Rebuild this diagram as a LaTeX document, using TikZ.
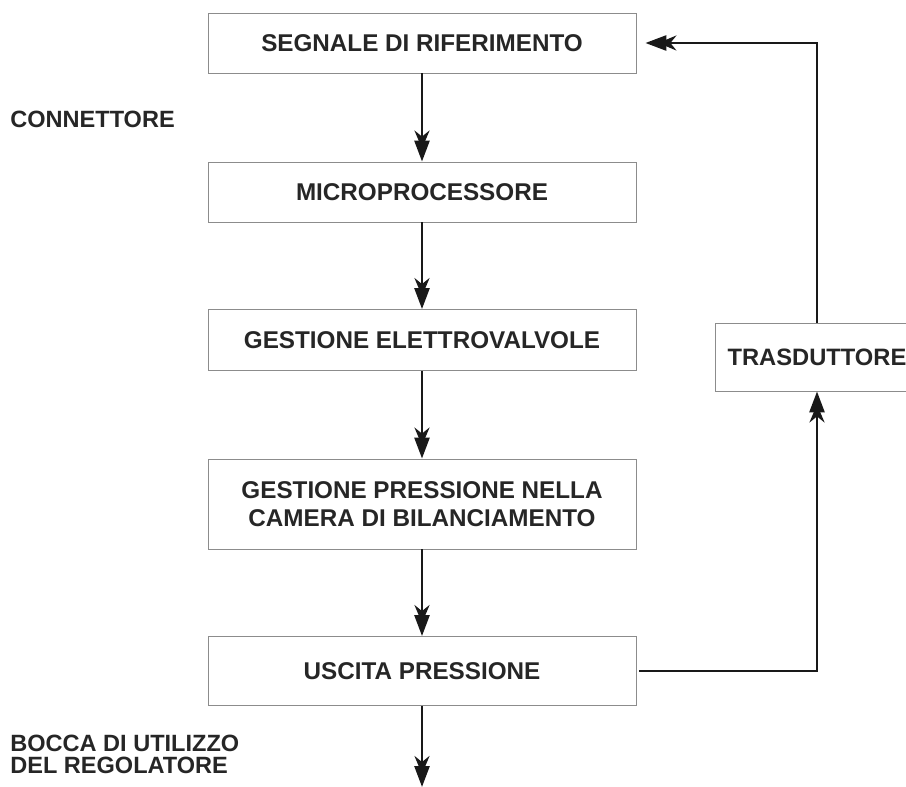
\documentclass[tikz,border=0pt]{standalone}
\usepackage{fontspec}
\setmainfont{Liberation Sans}
\usetikzlibrary{arrows.meta}

\begin{document}
\begin{tikzpicture}[x=0.02cm, y=-0.02cm,
  font=\fontsize{13.8}{16}\selectfont\bfseries,
  blocco/.style 2 args={draw=black!45, line width=0.5pt, minimum width=#1,
               minimum height=#2, align=center, text=black!85, inner sep=0pt},
  scritta/.style={align=left, text=black!85, inner sep=0pt,
               font=\fontsize{13.4}{12}\selectfont\bfseries},
  freccia/.style={line width=1.5pt, draw=black!90,
               -{Stealth[length=0.36cm, width=0.3cm, inset=0.12cm, sep=-0.16cm]
                 Triangle[length=0.42cm, width=0.3cm]}}
]
  \useasboundingbox (0,0) rectangle (906,787);
  % catena principale
  \node[blocco={8.56cm}{1.2cm}]  (segnale) at (422, 43)  {SEGNALE DI RIFERIMENTO};
  \node[blocco={8.56cm}{1.2cm}]  (micro)   at (422, 192) {MICROPROCESSORE};
  \node[blocco={8.56cm}{1.22cm}] (elettro) at (422, 340) {GESTIONE ELETTROVALVOLE};
  \node[blocco={8.56cm}{1.8cm}]  (camera)  at (422, 504) {GESTIONE PRESSIONE NELLA\\CAMERA DI BILANCIAMENTO};
  \node[blocco={8.56cm}{1.38cm}] (uscita)  at (422, 671) {USCITA PRESSIONE};
  \node[blocco={4.08cm}{1.36cm}, font=\fontsize{13.5}{16}\selectfont\bfseries]
       (trasd) at (817, 357) {TRASDUTTORE};
  % scritte laterali
  \node[scritta, anchor=base west] (conn)  at (10, 128) {CONNETTORE};
  \node[scritta, anchor=base west] (bocca) at (10, 773) {BOCCA DI UTILIZZO\\DEL REGOLATORE};
  \coordinate (uscitafine) at (422, 787);

  \draw[freccia] (segnale) -- (micro);
  \draw[freccia] (micro) -- (elettro);
  \draw[freccia] (elettro) -- (camera);
  \draw[freccia] (camera) -- (uscita);
  \draw[freccia] (uscita) -- (uscitafine);
  % retroazione
  \draw[freccia] ([xshift=0.06cm]uscita.east) -| (trasd);
  \draw[freccia] (trasd) |- ([xshift=0.18cm]segnale.east);
\end{tikzpicture}
\end{document}
